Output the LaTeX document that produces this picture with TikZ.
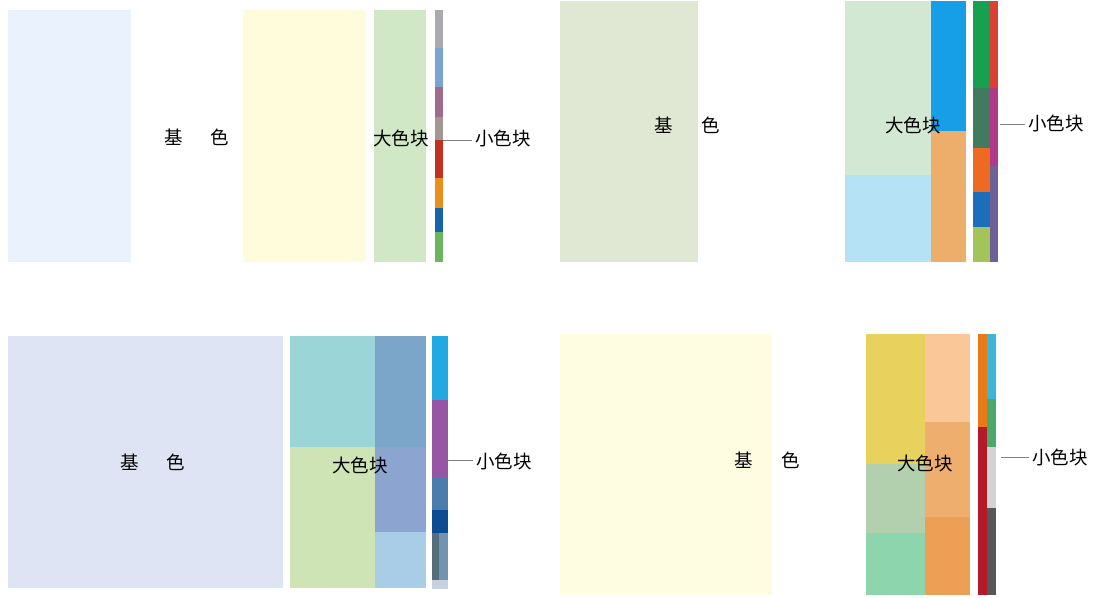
\documentclass[tikz,border=0pt]{standalone}
\usepackage{fontspec}
\setmainfont{Noto Sans CJK SC}
% panel 1
\definecolor{baseA}{HTML}{EAF3FD}
\definecolor{yelA}{HTML}{FEFCDB}
\definecolor{grnA}{HTML}{D0E8C5}
\definecolor{sA1}{HTML}{A9A9AE}
\definecolor{sA2}{HTML}{7DA3D4}
\definecolor{sA3}{HTML}{9C6C8A}
\definecolor{sA4}{HTML}{A39690}
\definecolor{sA5}{HTML}{C0311F}
\definecolor{sA6}{HTML}{E8901E}
\definecolor{sA7}{HTML}{1763A8}
\definecolor{sA8}{HTML}{6BB55E}
% panel 2
\definecolor{baseB}{HTML}{E0E7D2}
\definecolor{bB1}{HTML}{D3E8D3}
\definecolor{bB2}{HTML}{B5E2F5}
\definecolor{bB3}{HTML}{169FE6}
\definecolor{bB4}{HTML}{EDAD6B}
\definecolor{sB1}{HTML}{17A04F}
\definecolor{sB2}{HTML}{427A5F}
\definecolor{sB3}{HTML}{EE6A20}
\definecolor{sB4}{HTML}{1C6DBA}
\definecolor{sB5}{HTML}{A3C45A}
\definecolor{sB6}{HTML}{DB4035}
\definecolor{sB7}{HTML}{B03A8A}
\definecolor{sB8}{HTML}{6E6098}
% panel 3
\definecolor{baseC}{HTML}{DEE4F3}
\definecolor{bC1}{HTML}{9BD5D7}
\definecolor{bC2}{HTML}{CEE4B4}
\definecolor{bC3}{HTML}{7BA6C9}
\definecolor{bC4}{HTML}{8BA4D0}
\definecolor{bC5}{HTML}{A9CDE7}
\definecolor{sC1}{HTML}{23A9E1}
\definecolor{sC2}{HTML}{9656A3}
\definecolor{sC3}{HTML}{4A7DAB}
\definecolor{sC4}{HTML}{0E4C92}
\definecolor{sC5}{HTML}{546F7B}
\definecolor{sC6}{HTML}{7393B2}
\definecolor{sC7}{HTML}{C7D0DE}
% panel 4
\definecolor{baseD}{HTML}{FEFDE2}
\definecolor{bD1}{HTML}{E9D15E}
\definecolor{bD2}{HTML}{B2D0AD}
\definecolor{bD3}{HTML}{8DD6AD}
\definecolor{bD4}{HTML}{FAC898}
\definecolor{bD5}{HTML}{EDAE6E}
\definecolor{bD6}{HTML}{EE9F56}
\definecolor{sD1}{HTML}{E97A17}
\definecolor{sD2}{HTML}{B31B2A}
\definecolor{sD3}{HTML}{3CB6D6}
\definecolor{sD4}{HTML}{4CA96A}
\definecolor{sD5}{HTML}{D3D3D3}
\definecolor{sD6}{HTML}{575757}
\tikzset{
  lbl/.style={font=\fontsize{18.5}{20}\selectfont, text=black},
  lead/.style={draw=black!50, line width=0.9pt},
}
\begin{document}
\begin{tikzpicture}[x=1pt,y=-1pt]
        \fill[white] (0,0) rectangle (1094,597);
        \useasboundingbox (0,0) rectangle (1094,597);
        % top left
        \fill[baseA] (8,10) rectangle (131,262);
        \fill[yelA] (243,10) rectangle (366,262);
        \fill[grnA] (374,10) rectangle (426,262);
        \foreach \a/\b/\c in {10/48/sA1,48/87/sA2,87/117/sA3,117/140/sA4,140/178/sA5,178/208/sA6,208/232/sA7,232/262/sA8}
          \fill[\c] (435,\a) rectangle (443,\b);
        \node[lbl] (jiA) at (197,137) {基\hspace{28pt}色};
        \node[lbl] (daA) at (401,138) {大色块};
        \node[lbl] (xiaoA) at (503,138) {小色块};
        \coordinate (tipA) at (443,140);
        \draw[lead] (tipA) -- (tipA -| xiaoA.west);
        % top right
        \fill[baseB] (560,1) rectangle (698,262);
        \fill[bB1] (845,1) rectangle (931,175);
        \fill[bB2] (845,175) rectangle (931,262);
        \fill[bB3] (931,1) rectangle (966,131);
        \fill[bB4] (931,131) rectangle (966,262);
        \foreach \a/\b/\c in {1/88/sB1,88/148/sB2,148/192/sB3,192/227/sB4,227/262/sB5}
          \fill[\c] (973,\a) rectangle (990,\b);
        \foreach \a/\b/\c in {1/88/sB6,88/166/sB7,166/262/sB8}
          \fill[\c] (990,\a) rectangle (998,\b);
        \node[lbl] (jiB) at (687,125) {基\hspace{28pt}色};
        \node[lbl] (daB) at (913,125) {大色块};
        \node[lbl] (xiaoB) at (1056,123) {小色块};
        \coordinate (tipB) at (1000,124);
        \draw[lead] (tipB) -- (tipB -| xiaoB.west);
        % bottom left
        \fill[baseC] (8,336) rectangle (283,588);
        \fill[bC1] (290,336) rectangle (375,447);
        \fill[bC2] (290,447) rectangle (375,588);
        \fill[bC3] (375,336) rectangle (426,447);
        \fill[bC4] (375,447) rectangle (426,532);
        \fill[bC5] (375,532) rectangle (426,588);
        \foreach \a/\b/\c in {336/400/sC1,400/478/sC2,478/510/sC3,510/533/sC4,580/589/sC7}
          \fill[\c] (432,\a) rectangle (448,\b);
        \fill[sC5] (432,533) rectangle (439,580);
        \fill[sC6] (439,533) rectangle (448,580);
        \node[lbl] (jiC) at (153,462) {基\hspace{28pt}色};
        \node[lbl] (daC) at (360,465) {大色块};
        \node[lbl] (xiaoC) at (504,461) {小色块};
        \coordinate (tipC) at (448,460);
        \draw[lead] (tipC) -- (tipC -| xiaoC.west);
        % bottom right
        \fill[baseD] (560,334) rectangle (772,595);
        \fill[bD1] (866,334) rectangle (925,464);
        \fill[bD2] (866,464) rectangle (925,533);
        \fill[bD3] (866,533) rectangle (925,595);
        \fill[bD4] (925,334) rectangle (970,422);
        \fill[bD5] (925,422) rectangle (970,517);
        \fill[bD6] (925,517) rectangle (970,595);
        \fill[sD1] (978,334) rectangle (987,427);
        \fill[sD2] (978,427) rectangle (987,595);
        \foreach \a/\b/\c in {334/399/sD3,399/447/sD4,447/508/sD5,508/595/sD6}
          \fill[\c] (987,\a) rectangle (996,\b);
        \node[lbl] (jiD) at (767,460) {基\hspace{28pt}色};
        \node[lbl] (daD) at (925,463) {大色块};
        \node[lbl] (xiaoD) at (1060,457) {小色块};
        \coordinate (tipD) at (1001,457);
        \draw[lead] (tipD) -- (tipD -| xiaoD.west);
      \end{tikzpicture}
\end{document}
